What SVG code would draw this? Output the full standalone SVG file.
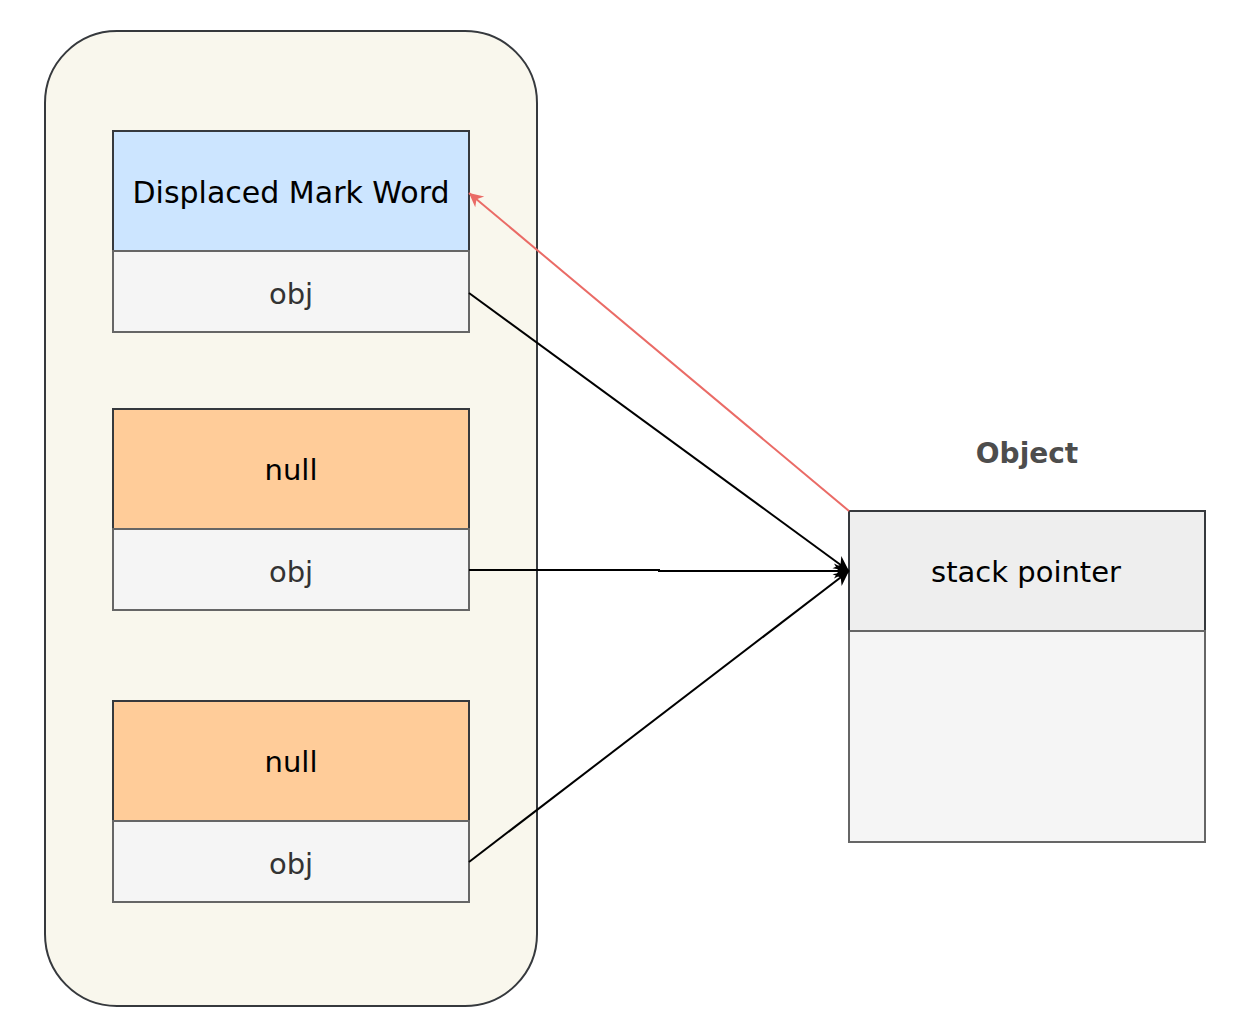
<svg xmlns="http://www.w3.org/2000/svg" width="1250" height="1035" viewBox="0 0 1250 1035">
<style>
text{font-family:"DejaVu Sans","Liberation Sans",sans-serif;font-size:29px;text-anchor:middle;dominant-baseline:central;fill:#000}
.obj{fill:#f5f5f5;stroke:#666666;stroke-width:2}
.objt{fill:#333333}
.blue{fill:#cce5ff;stroke:#36393d;stroke-width:2}
.orange{fill:#ffcc99;stroke:#36393d;stroke-width:2}
.edge{fill:none;stroke:#000;stroke-width:2}
.red{fill:none;stroke:#ea6b66;stroke-width:2}
</style>
<defs>
<marker id="ab" viewBox="0 0 10 10" refX="10" refY="5" markerWidth="15" markerHeight="15" markerUnits="userSpaceOnUse" orient="auto" overflow="visible">
<path d="M0,0 L10,5 L0,10 L3,5 Z" fill="#000"/>
</marker>
<marker id="ar" viewBox="0 0 10 10" refX="10" refY="5" markerWidth="14" markerHeight="14" markerUnits="userSpaceOnUse" orient="auto" overflow="visible">
<path d="M0,0 L10,5 L0,10 L3,5 Z" fill="#ea6b66"/>
</marker>
</defs>
<g id="container">
<rect x="45" y="31" width="492" height="975" rx="72" ry="72" fill="#f9f7ed" stroke="#36393d" stroke-width="2"/>
</g>
<g id="node1">
<rect class="blue" x="113" y="131" width="356" height="120"/>
<text x="291" y="192" style="font-size:30px">Displaced Mark Word</text>
<rect class="obj" x="113" y="251" width="356" height="81"/>
<text class="objt" x="291" y="294">obj</text>
</g>
<g id="node2">
<rect class="orange" x="113" y="409" width="356" height="120"/>
<text x="291" y="470">null</text>
<rect class="obj" x="113" y="529" width="356" height="81"/>
<text class="objt" x="291" y="572">obj</text>
</g>
<g id="node3">
<rect class="orange" x="113" y="701" width="356" height="120"/>
<text x="291" y="762">null</text>
<rect class="obj" x="113" y="821" width="356" height="81"/>
<text class="objt" x="291" y="864">obj</text>
</g>
<g id="object">
<text x="1027" y="453" style="font-weight:bold;fill:#4d4d4d;font-size:28px">Object</text>
<rect x="849" y="511" width="356" height="120" fill="#eeeeee" stroke="#36393d" stroke-width="2"/>
<text x="1026" y="572">stack pointer</text>
<rect class="obj" x="849" y="631" width="356" height="211"/>
</g>
<g id="connectors">
<path class="edge" d="M469,293 L849,571" marker-end="url(#ab)"/>
<path class="edge" d="M469,570 L659,570 L659,571 L849,571" marker-end="url(#ab)"/>
<path class="edge" d="M469,862 L849,571" marker-end="url(#ab)"/>
<path class="red" d="M849,511 L469,193" marker-end="url(#ar)"/>
</g>
</svg>
